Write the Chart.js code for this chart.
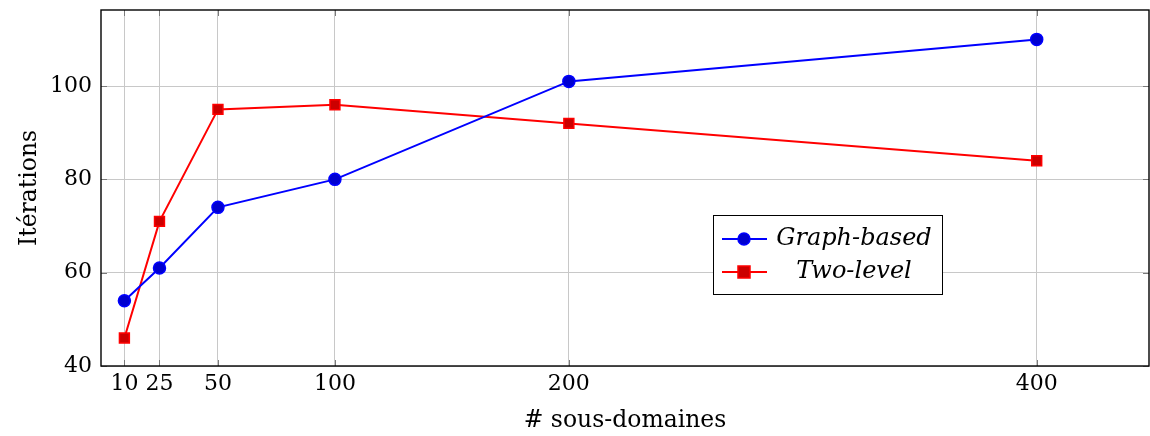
<!DOCTYPE html>
<html>
<head>
<meta charset="utf-8">
<script src="https://cdn.jsdelivr.net/npm/chart.js@4.4.1/dist/chart.umd.min.js"></script>
<style>
  html, body { margin: 0; padding: 0; background: #fff; }
  #wrap { width: 1150px; height: 436px; }
</style>
</head>
<body>
<div id="wrap"><canvas id="c" width="1150" height="436"></canvas></div>
<script>
// Number of subdomains and iteration counts for the two preconditioners
const subdomains = [10, 25, 50, 100, 200, 400];
const graphBased = [54, 61, 74, 80, 101, 110];
const twoLevel = [46, 71, 95, 96, 92, 84];
const xTicks = [10, 25, 50, 100, 200, 400];
const yTicks = [40, 60, 80, 100];
const seriesNames = ['Graph-based', 'Two-level'];

const FONT = '"DejaVu Serif", "Liberation Serif", serif';
const toPoints = (vals) => subdomains.map((x, i) => ({ x: x, y: vals[i] }));

// Frame, inward ticks, axis titles and the legend box
const decorations = {
  id: 'decorations',
  afterDraw(chart) {
    const ctx = chart.ctx;
    const a = chart.chartArea;
    const xs = chart.scales.x, ys = chart.scales.y;
    ctx.save();
    // inward tick marks
    ctx.strokeStyle = '#7a7a7a';
    ctx.lineWidth = 1;
    const tl = 6;
    xTicks.forEach(v => {
      const px = Math.round(xs.getPixelForValue(v)) + 0.5;
      ctx.beginPath();
      ctx.moveTo(px, a.bottom); ctx.lineTo(px, a.bottom - tl);
      ctx.moveTo(px, a.top); ctx.lineTo(px, a.top + tl);
      ctx.stroke();
    });
    yTicks.forEach(v => {
      const py = Math.round(ys.getPixelForValue(v)) + 0.5;
      ctx.beginPath();
      ctx.moveTo(a.left, py); ctx.lineTo(a.left + tl, py);
      ctx.moveTo(a.right, py); ctx.lineTo(a.right - tl, py);
      ctx.stroke();
    });
    // frame
    ctx.strokeStyle = '#000';
    ctx.lineWidth = 1.4;
    ctx.strokeRect(a.left, a.top, a.right - a.left, a.bottom - a.top);

    // axis titles
    ctx.fillStyle = '#000';
    ctx.font = '23.5px ' + FONT;
    ctx.textAlign = 'center';
    ctx.textBaseline = 'middle';
    ctx.fillText('# sous-domaines', (a.left + a.right) / 2, 421);
    ctx.save();
    ctx.translate(30, (a.top + a.bottom) / 2);
    ctx.rotate(-Math.PI / 2);
    ctx.fillText('Itérations', 0, 0);
    ctx.restore();

    // legend
    const bx = 713, by = 215, bw = 229, bh = 79;
    ctx.fillStyle = '#fff';
    ctx.fillRect(bx, by, bw, bh);
    ctx.strokeStyle = '#000';
    ctx.lineWidth = 1;
    ctx.strokeRect(bx + 0.5, by + 0.5, bw, bh);
    const rows = [by + 24, by + 57];
    chart.data.datasets.forEach((ds, i) => {
      const ry = rows[i];
      ctx.strokeStyle = ds.borderColor;
      ctx.lineWidth = 2;
      ctx.beginPath();
      ctx.moveTo(bx + 9, ry); ctx.lineTo(bx + 54, ry);
      ctx.stroke();
      ctx.fillStyle = ds.pointBackgroundColor;
      ctx.strokeStyle = ds.pointBorderColor;
      ctx.lineWidth = 1.5;
      if (ds.pointStyle === 'circle') {
        ctx.beginPath();
        ctx.arc(bx + 31, ry, 6, 0, Math.PI * 2);
        ctx.fill(); ctx.stroke();
      } else {
        ctx.fillRect(bx + 25, ry - 6, 12, 12);
        ctx.strokeRect(bx + 25, ry - 6, 12, 12);
      }
      ctx.fillStyle = '#000';
      ctx.font = 'italic 24px ' + FONT;
      ctx.textAlign = 'center';
      ctx.textBaseline = 'middle';
      ctx.fillText(ds.label, bx + 141, ry);
    });
    ctx.restore();
  }
};

new Chart(document.getElementById('c'), {
  type: 'scatter',
  data: {
    datasets: [
      {
        label: seriesNames[0],
        data: toPoints(graphBased),
        showLine: true,
        borderColor: '#0000ff',
        borderWidth: 2,
        pointStyle: 'circle',
        pointRadius: 6,
        pointHoverRadius: 6,
        pointBackgroundColor: '#0000d0',
        pointBorderColor: '#0000ff',
        pointBorderWidth: 1.5,
        tension: 0
      },
      {
        label: seriesNames[1],
        data: toPoints(twoLevel),
        showLine: true,
        borderColor: '#ff0000',
        borderWidth: 2,
        pointStyle: 'rect',
        pointRadius: 7,
        pointHoverRadius: 7,
        pointBackgroundColor: '#cc0000',
        pointBorderColor: '#ff0000',
        pointBorderWidth: 1.5,
        tension: 0
      }
    ]
  },
  options: {
    responsive: false,
    animation: false,
    layout: { autoPadding: false, padding: { top: 10, right: 1, left: 0, bottom: 0 } },
    plugins: { legend: { display: false }, tooltip: { enabled: false } },
    scales: {
      x: {
        type: 'linear',
        min: 0,
        max: 448,
        afterBuildTicks: (s) => { s.ticks = xTicks.map(v => ({ value: v })); },
        afterFit: (s) => { s.height = 70; s.paddingLeft = 0; s.paddingRight = 0; },
        grid: { color: '#c8c8c8', lineWidth: 1, drawTicks: false },
        border: { display: false },
        ticks: {
          color: '#000',
          font: { family: FONT, size: 22 },
          padding: 5,
          maxRotation: 0,
          autoSkip: false,
          callback: (v) => String(v)
        }
      },
      y: {
        type: 'linear',
        min: 40,
        max: 116.3,
        afterBuildTicks: (s) => { s.ticks = yTicks.map(v => ({ value: v })); },
        afterFit: (s) => { s.width = 101; s.paddingTop = 0; s.paddingBottom = 0; },
        grid: { color: '#c8c8c8', lineWidth: 1, drawTicks: false },
        border: { display: false },
        ticks: {
          color: '#000',
          font: { family: FONT, size: 22 },
          padding: 9,
          callback: (v) => String(v)
        }
      }
    }
  },
  plugins: [decorations]
});
</script>
</body>
</html>
